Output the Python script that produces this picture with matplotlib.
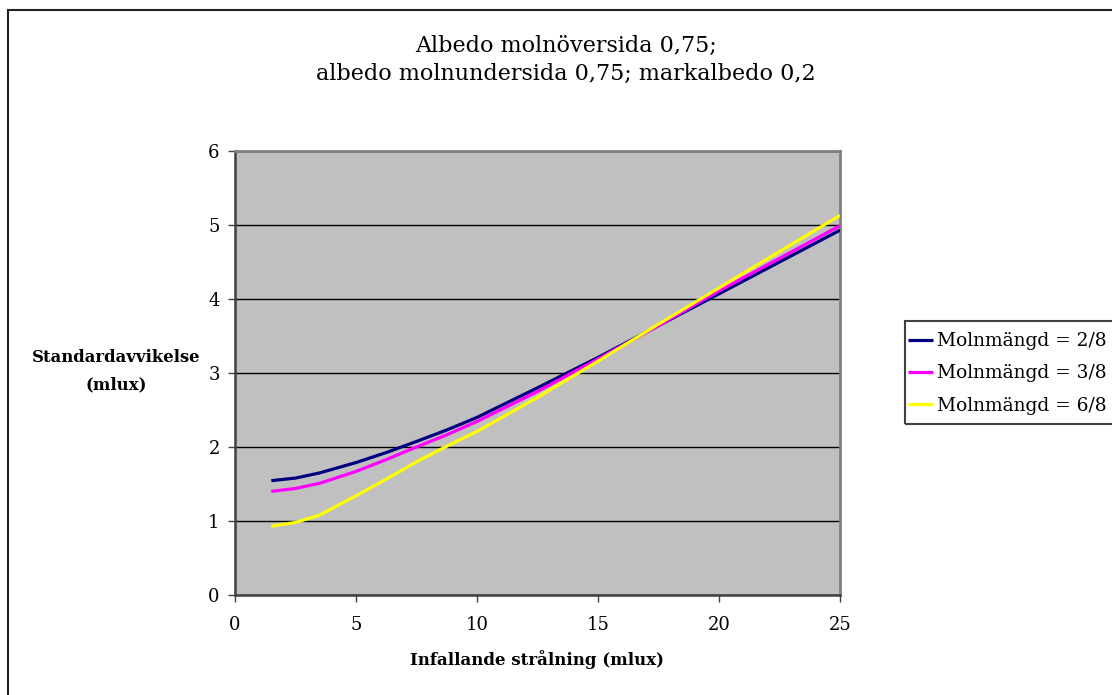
import matplotlib
matplotlib.use("Agg")
import matplotlib.pyplot as plt
from matplotlib.patches import Rectangle

plt.rcParams['font.family'] = ['DejaVu Serif']

# Data
x_vals = [1.5, 2.5, 3.5, 5, 6.25, 7.5, 8.75, 10, 12.5, 15, 17.5, 20, 22.5, 25]
molnmangd_2_8 = [1.545, 1.58, 1.65, 1.79, 1.925, 2.075, 2.23, 2.40, 2.80, 3.21, 3.64, 4.07, 4.50, 4.93]
molnmangd_3_8 = [1.40, 1.44, 1.51, 1.67, 1.83, 2.00, 2.165, 2.345, 2.75, 3.19, 3.64, 4.11, 4.55, 4.99]
molnmangd_6_8 = [0.93, 0.98, 1.08, 1.34, 1.565, 1.80, 2.01, 2.21, 2.67, 3.16, 3.66, 4.15, 4.64, 5.13]
series_labels = ['Molnmängd = 2/8', 'Molnmängd = 3/8', 'Molnmängd = 6/8']
series_colors = ['#000080', '#FF00FF', '#FFFF00']
x_ticks = [0, 5, 10, 15, 20, 25]
y_ticks = [0, 1, 2, 3, 4, 5, 6]
title = 'Albedo molnöversida 0,75;\nalbedo molnundersida 0,75; markalbedo 0,2'
xlabel = 'Infallande strålning (mlux)'
ylabel = 'Standardavvikelse\n(mlux)'

W, H = 1112, 695
fig = plt.figure(figsize=(W / 100, H / 100), dpi=100)
fig.patch.set_facecolor('white')

# outer chart border (cut at right/bottom like the reference)
fig.patches.append(Rectangle((8 / W, -0.05), 1.2, 1 - 10 / H + 0.05,
                             transform=fig.transFigure, fill=False,
                             edgecolor='#222222', linewidth=1.5, zorder=0))

ax = fig.add_axes([235 / W, 1 - 595 / H, (840 - 235) / W, (595 - 151) / H])
ax.set_facecolor('#C0C0C0')

for ys, lab, col in zip([molnmangd_2_8, molnmangd_3_8, molnmangd_6_8], series_labels, series_colors):
    ax.plot(x_vals, ys, color=col, linewidth=2.3, label=lab, zorder=3,
            solid_capstyle='butt', solid_joinstyle='round')

ax.set_xlim(0, 25)
ax.set_ylim(0, 6)
ax.set_xticks(x_ticks)
ax.set_yticks(y_ticks)
ax.grid(axis='y', color='black', linewidth=1.0, zorder=1)
ax.set_axisbelow(True)

for side in ['top', 'right']:
    ax.spines[side].set_color('#808080')
    ax.spines[side].set_linewidth(2)
for side in ['left', 'bottom']:
    ax.spines[side].set_color('#404040')
    ax.spines[side].set_linewidth(1.8)

ax.tick_params(axis='both', direction='out', length=5, width=1, color='#404040',
               labelsize=13, pad=6)
ax.tick_params(axis='x', pad=10)

ax.set_xlabel(xlabel, fontsize=12, fontweight='bold', labelpad=12)
fig.text(116 / W, 1 - 371 / H, ylabel, fontsize=11.9, fontweight='bold',
         ha='center', va='center', linespacing=1.8)

fig.text(566 / W, 1 - 60 / H, title, fontsize=16, ha='center', va='center',
         linespacing=1.4)

# legend box (extends past the right edge like the reference)
fig.patches.append(Rectangle((905 / W, 1 - 424 / H), 220 / W, 103 / H,
                             transform=fig.transFigure, fill=False,
                             edgecolor='#404040', linewidth=1.5, zorder=5))
leg = fig.legend(loc='upper left', bbox_to_anchor=(897 / W, 1 - 321 / H),
                 bbox_transform=fig.transFigure, fontsize=13.4, frameon=False,
                 handlelength=1.34, handletextpad=0.22, borderpad=0.6,
                 labelspacing=0.77, borderaxespad=0)

fig.savefig('out.png', dpi=100, facecolor='white')
